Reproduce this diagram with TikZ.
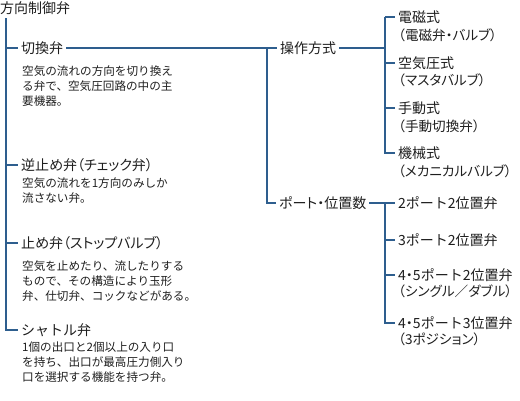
\documentclass[tikz,border=0pt]{standalone}
\usepackage{fontspec}
\newfontfamily\jp{Noto Sans CJK JP}
\newfontfamily\jpp[RawFeature=+palt]{Noto Sans CJK JP}
\definecolor{linec}{RGB}{46,94,142}
\definecolor{txt}{RGB}{30,30,30}
\begin{document}
\begin{tikzpicture}[x=1pt,y=-1pt,
  conn/.style={draw=linec,line width=2pt},
  lbl/.style={font=\jp\fontsize{14}{16}\selectfont,text=txt,inner xsep=3pt,inner ysep=0pt,text height=12.3pt,text depth=1.7pt,anchor=west},
  lblp/.style={lbl,font=\jpp\fontsize{14}{16}\selectfont},
  sub/.style={font=\jpp\fontsize{13.6}{16}\selectfont,text=txt,inner sep=0pt,text height=12pt,text depth=1.6pt,anchor=west},
  desc/.style={font=\jp\fontsize{11.6}{15}\selectfont,text=txt,inner sep=0pt,align=left,anchor=base west}]
\useasboundingbox (0,0) rectangle (520,400);
% title
\node[font=\jpp\fontsize{14}{16}\selectfont,text=txt,inner sep=0pt,anchor=west,text height=12.3pt,text depth=1.7pt] (title) at (0,8) {方向制御弁};
\coordinate (trunktop) at (6,18);
\coordinate (trunkend) at (6,330);
% left labels
\node[lbl] (kirikae) at (18,48) {切換弁};
\node[lblp] (gyaku) at (18,165) {逆止め弁（チェック弁）};
\node[lblp] (tome) at (18,243) {止め弁（ストップバルブ）};
\node[lbl] (shuttle) at (18,330) {シャトル弁};
% descriptions (anchored at the baseline of their last line)
\node[desc] (d1) at (22,105.4) {空気の流れの方向を切り換え\\る弁で、空気圧回路の中の主\\要機器。};
\node[desc] (d2) at (22,202.4) {空気の流れを1方向のみしか\\流さない弁。};
\node[desc] (d3) at (22,300.4) {空気を止めたり、流したりする\\もので、その構造により玉形\\弁、仕切弁、コックなどがある。};
\node[desc] (d4) at (22,381.4) {1個の出口と2個以上の入り口\\を持ち、出口が最高圧力側入り\\口を選択する機能を持つ弁。};
% trunk
\draw[conn] (trunktop) -- (trunkend) -- (shuttle.west);
\draw[conn] (trunktop |- kirikae.west) -- (kirikae.west);
\draw[conn] (trunktop |- gyaku.west) -- (gyaku.west);
\draw[conn] (trunktop |- tome.west) -- (tome.west);
% middle
\node[lbl] (sousa) at (277,48) {操作方式};
\node[lblp] (port) at (276,203) {ポート・位置数};
\coordinate (mid) at (267,48);
\draw[conn] (kirikae.east) -- (sousa.west);
\draw[conn] (mid) -- (mid |- port.west) -- (port.west);
% right upper
\node[lbl] (denji) at (395,17) {電磁式};
\node[sub] (denji2) at (398,35) {（電磁弁・バルブ）};
\node[lbl] (kuuki) at (395,63) {空気圧式};
\node[sub] (kuuki2) at (398,80) {（マスタバルブ）};
\node[lbl] (shudo) at (395,108) {手動式};
\node[sub] (shudo2) at (398,126) {（手動切換弁）};
\node[lbl] (kikai) at (395,153) {機械式};
\node[sub] (kikai2) at (398,171) {（メカニカルバルブ）};
\coordinate (r1) at (385,17);
\draw[conn] (sousa.east) -- (sousa.east -| r1);
\draw[conn] (r1 |- denji.west) -- (denji.west);
\draw[conn] (r1) -- (r1 |- kikai.west) -- (kikai.west);
\draw[conn] (r1 |- kuuki.west) -- (kuuki.west);
\draw[conn] (r1 |- shudo.west) -- (shudo.west);
% right lower
\node[lbl] (p2) at (395,203) {2ポート2位置弁};
\node[lbl] (p3) at (395,240) {3ポート2位置弁};
\node[lbl] (p45a) at (395,275) {4{\jpp ・}5ポート2位置弁};
\node[sub] (p45a2) at (398,291) {（シングル／ダブル）};
\node[lbl] (p45b) at (395,323) {4{\jpp ・}5ポート3位置弁};
\node[sub] (p45b2) at (398,339) {（3ポジション）};
\coordinate (r2) at (385,203);
\draw[conn] (port.east) -- (p2.west);
\draw[conn] (r2) -- (r2 |- p45b.west) -- (p45b.west);
\draw[conn] (r2 |- p3.west) -- (p3.west);
\draw[conn] (r2 |- p45a.west) -- (p45a.west);
\end{tikzpicture}
\end{document}
